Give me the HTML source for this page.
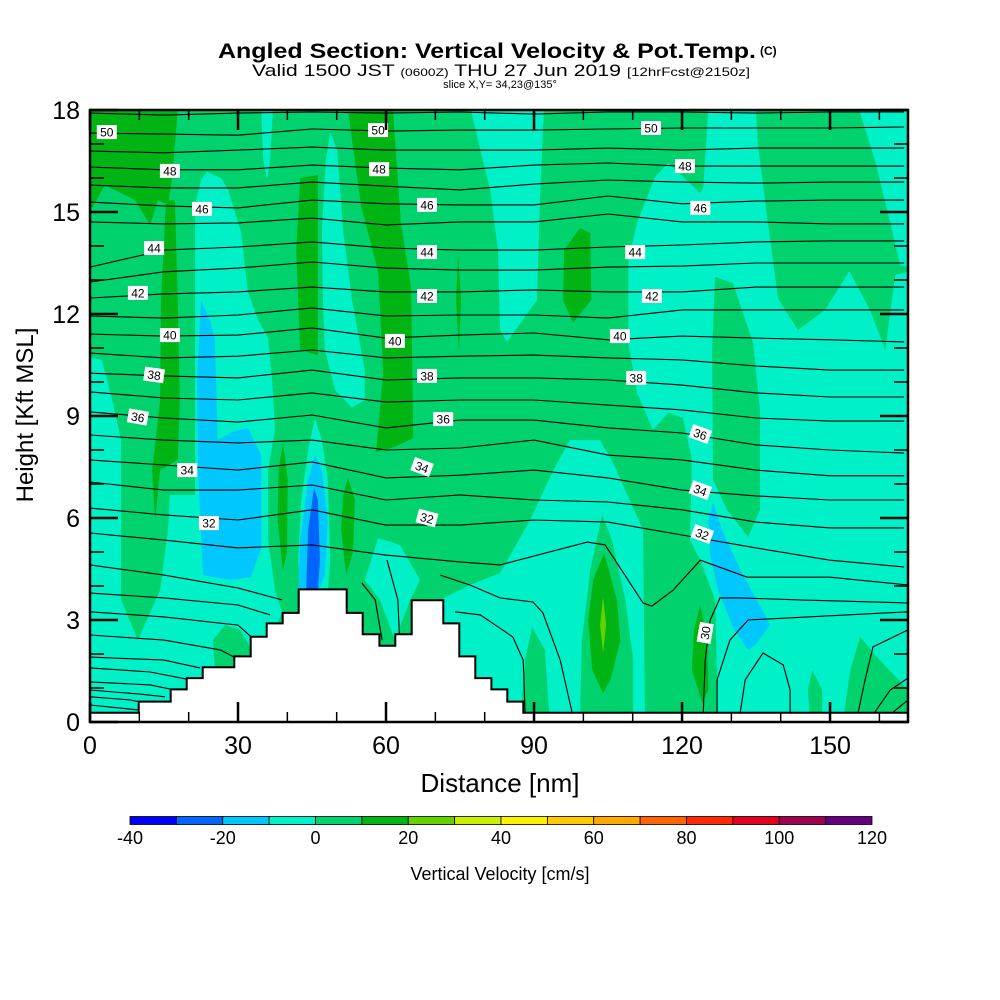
<!DOCTYPE html>
<html><head><meta charset="utf-8">
<style>
html,body{margin:0;padding:0;background:#fff;}
svg{display:block;font-family:"Liberation Sans",Arial,sans-serif;}
</style></head>
<body>
<svg id="chart" width="1000" height="1000" viewBox="0 0 1000 1000" xmlns="http://www.w3.org/2000/svg">
<defs><clipPath id="plotclip"><rect x="90" y="110" width="818" height="612"/></clipPath></defs>
<text x="218" y="58" font-size="21" font-weight="bold" textLength="538" lengthAdjust="spacingAndGlyphs">Angled Section: Vertical Velocity &amp; Pot.Temp.</text>
<text x="760" y="55" font-size="12" font-weight="bold">(C)</text>
<text x="252" y="76" font-size="17" textLength="498" lengthAdjust="spacingAndGlyphs">Valid 1500 JST <tspan font-size="11">(0600Z)</tspan> THU 27 Jun 2019 <tspan font-size="12">[12hrFcst@2150z]</tspan></text>
<text x="500" y="88" font-size="11" text-anchor="middle">slice X,Y= 34,23@135°</text>
<g id="plot" clip-path="url(#plotclip)">
<rect x="90" y="110" width="818" height="612" fill="#00F0C8"/>
<g id="fills"></g><g id="isentropes"></g><g id="terrain"></g><g id="labels"></g>
</g>
<rect x="90" y="110" width="818" height="612" fill="none" stroke="#000" stroke-width="2.5"/>
<g id="axes"></g>
<text transform="translate(33,415) rotate(-90)" font-size="24" text-anchor="middle">Height [Kft MSL]</text>
<text x="500" y="792" font-size="26" text-anchor="middle">Distance [nm]</text>
<g id="colorbar"></g>
<text x="500" y="880" font-size="18" text-anchor="middle">Vertical Velocity [cm/s]</text>
</svg>
<script>
// ---------- data ----------
const thetaLevels = [51,50,49,48,47,46,45,44,43,42,41,40,39,38,37,36,35,34,33,32];
const thetaColumnsNm = [0,15,30,45,60,75,90,105,120,135,150,165];
const th51=[17.91,17.85,17.91,17.94,17.91,17.94,17.88,17.94,17.94,17.91,17.94,17.94];
const th50=[17.32,17.29,17.26,17.44,17.38,17.41,17.41,17.44,17.47,17.47,17.47,17.5];
const th49=[16.79,16.74,16.82,16.91,16.82,16.82,16.82,16.88,16.82,16.88,16.88,16.88];
const th48=[16.32,16.24,16.24,16.38,16.29,16.24,16.38,16.44,16.35,16.35,16.35,16.35];
const th47=[15.79,15.71,15.71,15.88,15.76,15.65,15.82,15.94,15.88,15.85,15.88,15.88];
const th46=[15.29,15.18,15.12,15.35,15.24,15.21,15.21,15.47,15.24,15.32,15.35,15.35];
const th45=[14.71,14.65,14.68,14.82,14.62,14.71,14.71,14.94,14.71,14.71,14.65,14.65];
const th44=[13.38,13.88,13.97,14.12,13.94,13.88,13.88,13.97,14.03,14.12,14.15,14.15];
const th43=[12.94,13.24,13.35,13.53,13.35,13.29,13.29,13.38,13.41,13.5,13.5,13.5];
const th42=[12.47,12.59,12.65,12.79,12.65,12.65,12.71,12.65,12.65,12.79,12.79,12.79];
const th41=[11.94,11.88,11.97,12.18,11.94,11.97,11.97,11.88,12.12,12.12,12.12,12.12];
const th40=[11.41,11.35,11.38,11.59,11.29,11.38,11.44,11.24,11.35,11.29,11.24,11.18];
const th39=[10.85,10.71,10.76,10.94,10.71,10.76,10.79,10.71,10.65,10.47,10.35,10.35];
const th38=[10.26,10.18,10.12,10.35,10.06,10.12,10.12,10.06,9.91,9.68,9.56,9.56];
const th37=[9.71,9.53,9.47,9.68,9.41,9.47,9.47,9.32,9.18,8.94,8.85,8.85];
const th36=[9.12,8.94,8.82,9.03,8.65,8.88,8.88,8.65,8.5,8.15,8,7.91];
const th35=[8.44,8.29,8.21,8.29,8,8.06,8.29,7.85,7.71,7.41,7.24,7.24];
const th34=[7.71,7.56,7.41,7.65,7.18,7.26,7.41,7.18,6.82,6.65,6.53,6.53];
const th33=[7.06,6.82,6.82,6.97,6.53,6.68,6.53,6.47,6.24,5.88,5.71,5.71];
const th32=[6.29,6.09,5.94,6.24,5.79,5.79,5.94,5.88,5.5,5.12,4.76,4.56];
const thetaHeights=[th51,th50,th49,th48,th47,th46,th45,th44,th43,th42,th41,th40,th39,th38,th37,th36,th35,th34,th33,th32];
// free-form low-level isentropes as [nm,kft] points
const lowLines = [
 [[0,5.56],[15,5.35],[30,5.12],[45,5.21],[60,4.91],[75,4.71],[83.1,4.62],[100.8,5.29],[104.4,5.21],[112.1,3.5],[113.9,3.41],[118.2,3.88],[123.7,4.76],[133.2,4.26],[150,4.26],[165.8,4.03]],
 [[0,4.62],[15,4.32],[30,3.94],[38.9,3.59]],
 [[165.8,3.5],[143.9,3.59],[131.8,3.65],[127.7,3.65],[125.7,3],[124.7,1.82],[124.3,0.29]],
 [[0,3.79],[15,3.65],[30,3.44],[36.5,3.15]],
 [[165.8,3.24],[133.4,3],[129.7,2.41],[127.1,1.24],[127.1,0.29]],
 [[0,3.24],[15,3.09],[30,2.85],[33.4,2.41]],
 [[0,2.56],[15,2.41],[26.4,2.12],[30.4,1.82]],
 [[0,1.91],[15,1.82],[22.3,1.59]],
 [[0,1.59],[12.2,1.47],[20.3,1.24]],
 [[0,1.18],[12.2,1.09],[17.2,0.94]],
 [[0,0.94],[10.1,0.82],[15.2,0.74]],
 [[0,0.74],[8.1,0.65],[11.2,0.56]],
 [[0,0.5],[6.1,0.41],[10.1,0.35]],
 [[71,4.32],[77,4.03],[83.1,3.65],[89.8,3.53],[91.8,3.21],[95.3,1.82],[97.7,0.29]],
 [[74,3.24],[79.1,3.15],[83.1,2.76],[85.7,2.5],[87.8,1.82],[88.2,0.29]],
 [[131.8,0.29],[132.8,1.24],[136.4,2.03],[140.5,1.68],[141.9,0.94],[141.9,0.29]],
 [[155.7,0.29],[157.1,1.24],[158.7,2.21],[165.8,2.71]],
 [[159.1,0.29],[162.2,0.94],[165.8,1.29]],
 [[162.8,0.29],[165.8,0.65]],
 [[55.1,4.09],[57.8,3.59],[59.2,2.41]],
 [[60.2,4.76],[62.4,3.59],[62.8,2.26]]
];
// contour labels
const labelText=["50","50","50","48","48","48","46","46","46","44","44","44","42","42","42","40","40","40","38","38","38","36","36","36","34","34","34","32","32","32","30"];
const labelNm=[3.4,58.4,113.7,16.2,58.6,120.6,22.7,68.3,123.7,13,68.3,110.5,9.7,68.3,113.9,16.2,61.8,107.4,13,68.3,110.7,9.7,71.6,123.7,19.7,67.3,123.7,24.1,68.3,124.1,124.7];
const labelKft=[17.35,17.41,17.47,16.21,16.26,16.35,15.09,15.21,15.12,13.94,13.82,13.82,12.62,12.53,12.53,11.38,11.21,11.35,10.21,10.18,10.12,8.97,8.91,8.47,7.41,7.5,6.82,5.85,6,5.53,2.62];
const labelRot=[0,0,0,0,0,0,0,0,0,0,0,0,0,0,0,0,0,0,8,0,0,10,0,20,0,20,20,0,15,20,-80];
// vertical-velocity regions, [nm,kft] polygons, value = band colour class
const regionBand=[];const regionPoly=[];
function R(band,poly){regionBand.push(band);regionPoly.push(poly);}
R('g0',[[0,18],[125.3,18],[124.3,15.74],[123.7,15.56],[117.2,16.44],[114.5,16.03],[110.9,14.68],[109.1,13.59],[109.1,11.15],[110.9,9.68],[114.1,8.59],[117.2,9.09],[120.2,8.94],[122,7.71],[121.6,5.35],[123.7,4.76],[126.7,3.59],[127.3,0],[0,0]]);
R('c',[[0,10.71],[2.4,10.65],[4.5,9.47],[6.3,8.29],[6.3,3.59],[9.7,2.41],[14.2,3.88],[15.8,5.65],[16.2,6.68],[22.3,6.68],[22.3,0],[0,0]]);
R('c',[[22.5,15.94],[23.7,16.18],[26.6,16],[28,15.65],[30.6,14.41],[32,12.65],[34.1,11.82],[36.1,11.29],[36.9,10.06],[37.5,8.59],[36.1,7.41],[36.1,5.35],[37.5,3.88],[38.9,3.24],[32.4,0.65],[20.3,0.29],[21.3,4.41],[21.3,15.21]]);
R('c',[[45.6,8.94],[47,8.29],[48.2,7.12],[48.7,4.76],[48.2,3.82],[42.6,3.82],[42.2,4.76],[42.8,6.53],[44.2,8]]);
R('c',[[48.7,17.35],[50.1,16.82],[51.3,14.47],[53.1,12.41],[55.7,10.35],[55.7,9.47],[53.1,9.24],[49.7,9.76],[47.6,10.94],[47.2,12.41],[47,14.47],[47.8,16.53]]);
R('c',[[58.4,5.41],[62.8,5.21],[66.9,4.18],[64.9,3.59],[61.8,2.41],[58.8,3.59],[55.7,4.18]]);
R('c',[[71,3.59],[77,4.03],[83.1,4.38],[89.2,5.94],[93.9,7.41],[97.3,8.29],[103.4,8.29],[106,7.62],[112.1,5.65],[112.5,0],[71,0]]);
R('c',[[34.7,18],[37.1,18],[36.5,16.53],[35.9,15.94],[35.1,16.53]]);
R('c',[[77.2,18],[92,18],[91.2,15.35],[90.6,12.41],[84.5,11.18],[83.1,11.53],[82.7,13.88],[81.1,15.65],[79.1,16.82]]);
R('g0',[[27.4,2.85],[30.4,2.71],[32.8,2.12],[32.4,1.62],[25.3,1.62],[24.9,2.41]]);
R('g0',[[103.8,6.09],[105.8,5.35],[108.5,3.59],[110.1,1.82],[110.1,0],[99.3,0],[99.7,2.41],[101.4,4.47]]);
R('g0',[[89.6,2.79],[92.2,2.12],[93.2,0],[87.2,0],[88.2,1.82]]);
R('g0',[[126.7,13.09],[130.3,12.91],[134.4,11.15],[135.8,9.18],[135.8,6.24],[133.4,5.44],[129.1,6.24],[126.3,7.12],[126.1,10.94]]);
R('g0',[[135,18],[155.9,18],[159.1,16.53],[162.2,14.68],[164.2,13.44],[165.8,13.38],[165.8,13.24],[163.2,13.15],[161.2,10.94],[158.1,12.12],[153.9,13.26],[149,12.12],[143.5,11.53],[139.5,12.44],[137.4,14.68],[135.4,16.97]]);
R('g0',[[156.1,2.5],[160.1,1.82],[165.8,0.94],[165.8,0],[152.6,0],[154.1,1.53]]);
R('g0',[[146.4,1.53],[148.4,0.94],[148.4,0],[146,0],[145.5,0.94]]);
R('g1',[[0,18],[17.8,18],[16.6,15.94],[15.8,15.21],[13.8,15.35],[12.2,14.62],[9.1,15.35],[3,15.79],[0,15]]);
R('g1',[[15.4,15.35],[17.2,15.35],[17.8,12.41],[18.2,9.47],[17.8,7.71],[14.2,7.41],[13.2,5.94],[12.6,7.41],[14.2,9.47],[14.4,12.41]]);
R('g1',[[52.3,18],[61.4,18],[63,14.7],[65.1,12.76],[65.5,8.35],[61.8,8.09],[58,7.94],[59.4,10.29],[58.4,13.24],[54.9,15.21]]);
R('g1',[[42.6,16],[46.2,16.09],[46.2,10.79],[42.6,10.94],[41.8,13.88]]);
R('g1',[[99.3,14.53],[101.4,14.38],[101.6,12.41],[97.9,11.74],[95.9,12.41],[96.1,13.88]]);
R('g1',[[74.6,13.74],[75.2,12.41],[74.8,10.88],[74.2,12.41]]);
R('g1',[[39.1,8.21],[40.1,7.12],[39.9,4.97],[39.1,4.47],[38,5.94],[38.2,7.41]]);
R('g1',[[52.3,7.18],[53.7,6.53],[53.3,5],[51.9,4.32],[50.9,5.65],[51.3,6.68]]);
R('g1',[[104.2,4.97],[106.8,3.59],[107.5,2.41],[105.5,1.24],[104,0.85],[101.8,1.53],[101,3],[102,4.18]]);
R('g1',[[123.7,3.44],[125.1,2.41],[125.3,0.94],[124.1,0.56],[122,1.53],[122.4,2.71]]);
R('g2',[[104,3.68],[104.6,2.85],[104,2.03],[103.4,2.85]]);
R('b1',[[22.5,12.41],[24.3,11.82],[25.3,11.29],[25.9,8.29],[28.8,8.53],[32,8.65],[34.7,7.85],[34.7,5.12],[32.6,4.26],[28.4,4.18],[22.9,4.32],[21.9,7.41],[21.7,10.06]]);
R('b1',[[45.6,7.85],[47,7.41],[48.2,5.94],[47.6,4.32],[46.2,3.82],[42.2,3.82],[42.6,5.35],[44.2,7.12]]);
R('b2',[[45.4,6.88],[46.2,6.53],[46.6,4.76],[46.2,3.82],[43.8,3.82],[44.2,5.65]]);
R('b1',[[126.3,6.44],[128.1,5.65],[131.8,4.47],[136.8,3.15],[137.8,2.85],[134.8,2.26],[133.4,2.12],[130.6,2.71],[127.3,3.88],[125.7,4.91],[125.3,5.94]]);
// terrain steps
const terrainEdges=[0,9.87,16.36,19.6,22.85,29.25,32.58,35.82,39.06,42.3,52.04,55.28,58.65,61.89,65.21,71.62,74.86,78.1,81.35,84.59,87.83,165.8];
const terrainHeights=[0.27,0.6,0.96,1.29,1.61,1.93,2.51,2.9,3.21,3.9,3.21,2.58,2.24,2.58,3.58,2.9,1.93,1.29,0.96,0.6,0.27];
// colourbar
const cbValues=[-40,-30,-20,-10,0,10,20,30,40,50,60,70,80,90,100,110,120];
const cbColors=["#0000FF","#0064FF","#00C8FF","#00F0C8","#00D26E","#00B414","#64D200","#C8F000","#FFF000","#FFC800","#FFA800","#FF6400","#FF2800","#E10020","#A00050","#640080"];
const cbTickLabels=["-40","-20","0","20","40","60","80","100","120"];
const xTicks=[0,30,60,90,120,150];
const yTicks=[0,3,6,9,12,15,18];
const bandColor={c:"#00F0C8",g0:"#00D26E",g1:"#00B414",g2:"#64D200",b1:"#00C8FF",b2:"#0064FF"};

// ---------- scales ----------
const NS="http://www.w3.org/2000/svg";
const X=nm=>90+nm*(818/165.8);
const Y=k=>722-k*34;
function mk(tag,parent){const e=document.createElementNS(NS,tag);parent.appendChild(e);return e;}
const pts=a=>a.map(p=>X(p[0]).toFixed(1)+","+Y(p[1]).toFixed(1)).join(" ");

const fills=document.getElementById('fills');
regionPoly.forEach((poly,i)=>{
  const p=mk('polygon',fills);
  p.setAttribute('points',pts(poly));
  p.setAttribute('fill',bandColor[regionBand[i]]);
  
  
});

const iso=document.getElementById('isentropes');
thetaHeights.forEach((arr,i)=>{
  const p=mk('polyline',iso);
  p.setAttribute('points',pts(arr.map((k,j)=>[thetaColumnsNm[j],k])));
  p.setAttribute('fill','none');p.setAttribute('stroke','#000');p.setAttribute('stroke-width','1.1');
  
  
});
lowLines.forEach((line,i)=>{
  const p=mk('polyline',iso);
  p.setAttribute('points',pts(line));
  p.setAttribute('fill','none');p.setAttribute('stroke','#000');p.setAttribute('stroke-width','1.1');
  
  
});

const ter=document.getElementById('terrain');
let tp=[[0,0]];
terrainHeights.forEach((h,i)=>{tp.push([terrainEdges[i],h]);tp.push([terrainEdges[i+1],h]);});
tp.push([165.8,0]);
const tpoly=mk('polygon',ter);
tpoly.setAttribute('points',pts(tp));
tpoly.setAttribute('fill','#fff');tpoly.setAttribute('stroke','#000');tpoly.setAttribute('stroke-width','2');



const lab=document.getElementById('labels');
labelText.forEach((t,i)=>{
  const g=mk('g',lab);
  g.setAttribute('transform','translate('+X(labelNm[i]).toFixed(1)+','+Y(labelKft[i]).toFixed(1)+') rotate('+labelRot[i]+')');
  
  
  const r=mk('rect',g);r.setAttribute('x',-10);r.setAttribute('y',-7);r.setAttribute('width',20);r.setAttribute('height',14);r.setAttribute('fill','#fff');
  const tx=mk('text',g);tx.setAttribute('x',0);tx.setAttribute('y',4.5);tx.setAttribute('font-size','12');tx.setAttribute('text-anchor','middle');tx.textContent=t;
});

const ax=document.getElementById('axes');
function line(x1,y1,x2,y2,w,name){const l=mk('line',ax);l.setAttribute('x1',x1);l.setAttribute('y1',y1);l.setAttribute('x2',x2);l.setAttribute('y2',y2);l.setAttribute('stroke','#000');l.setAttribute('stroke-width',w);
  
  }
for(let k=0;k<=18;k++){const maj=k%3===0;const y=Y(k);
  line(90,y,90+(maj?28:14),y,maj?2.5:1.5,'y-tick');
  line(908,y,908-(maj?28:14),y,maj?2.5:1.5,'y-tick-right');}
for(let n=0;n<=160;n+=10){const maj=n%30===0;const x=X(n);
  line(x,722,x,722-(maj?20:10),maj?2.5:1.5,'x-tick');
  line(x,110,x,110+(maj?20:10),maj?2.5:1.5,'x-tick-top');}
yTicks.forEach(v=>{const t=mk('text',ax);t.setAttribute('x',80);t.setAttribute('y',Y(v)+9);t.setAttribute('font-size','25');t.setAttribute('text-anchor','end');t.textContent=v;
  
  });
xTicks.forEach(v=>{const t=mk('text',ax);t.setAttribute('x',X(v));t.setAttribute('y',754);t.setAttribute('font-size','25');t.setAttribute('text-anchor','middle');t.textContent=v;
  
  });

const cb=document.getElementById('colorbar');
const cbX=v=>130+(v+40)*(742/160);
cbColors.forEach((c,i)=>{const r=mk('rect',cb);r.setAttribute('x',cbX(cbValues[i]));r.setAttribute('y',816.5);r.setAttribute('width',cbX(cbValues[i+1])-cbX(cbValues[i]));r.setAttribute('height',8);r.setAttribute('fill',c);r.setAttribute('stroke','#000');r.setAttribute('stroke-width','0.8');
  
  });
cbTickLabels.forEach(s=>{const t=mk('text',cb);t.setAttribute('x',cbX(+s));t.setAttribute('y',844);t.setAttribute('font-size','18');t.setAttribute('text-anchor','middle');t.textContent=s;
  
  });
</script>
</body></html>
